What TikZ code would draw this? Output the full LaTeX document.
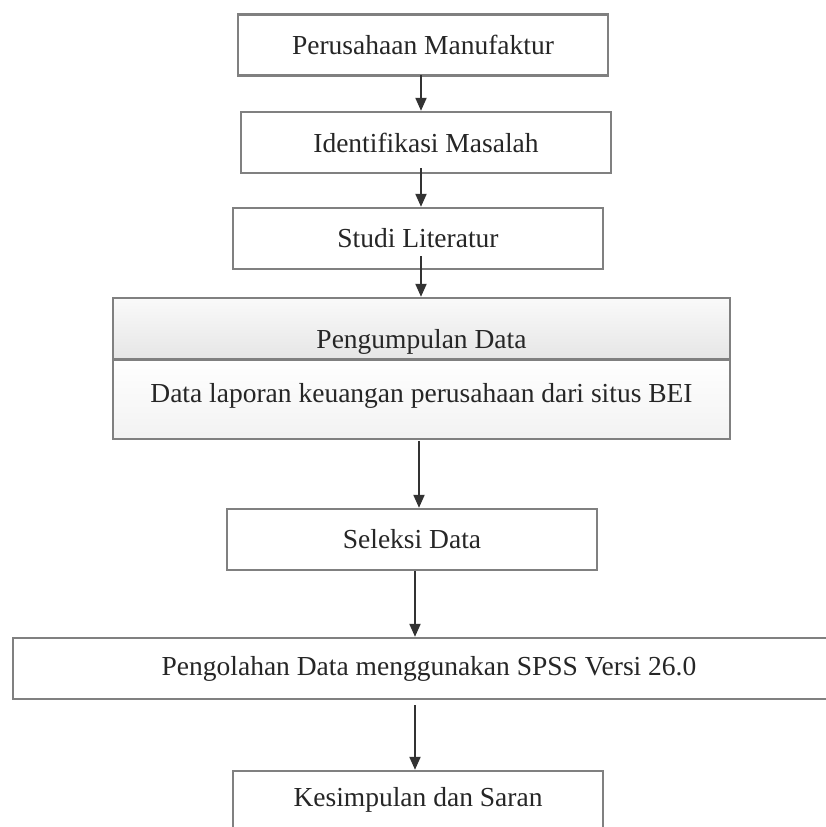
\documentclass[tikz,border=0pt]{standalone}
\usepackage{fontspec}
\setmainfont{Liberation Serif}
\usetikzlibrary{shapes,arrows,arrows.meta,calc,positioning}

\begin{document}
\begin{tikzpicture}[x=0.5pt,y=-0.5pt]
	\tikzstyle{box} = [draw=black!50,line width=1.2pt,fill=white,inner sep=0pt,minimum width=185pt,minimum height=30.5pt,text=black!85,font=\fontsize{13.75}{16}\selectfont]
	\tikzstyle{headpart} = [box,minimum width=308.5pt,top color=black!2,bottom color=black!10,text height=22.7pt,text depth=3.2pt]
	\tikzstyle{bodypart} = [box,minimum width=308.5pt,minimum height=40pt,top color=white,bottom color=black!5,text height=10pt,text depth=7pt]
	\tikzstyle{flow} = [draw=black!80,line width=1pt,-{Triangle[width=5.5pt,length=6.5pt]}]
	\useasboundingbox (0,0) rectangle (826,827);
	\clip (0,0) rectangle (826,827);
	% Steps
	\node[box] (s1) at (423,45) {Perusahaan Manufaktur};
	\node[box] (s2) at (426,142.5) {Identifikasi Masalah};
	\node[box] (s3) at (418,238.5) {Studi Literatur};
	% Data collection
	\node[headpart] (s4a) at (421.5,328.5) {Pengumpulan Data};
	\node[bodypart] (s4b) at (421.5,399) {Data laporan keuangan perusahaan dari situs BEI};
	\draw[draw=black!50,line width=1.2pt] (s4a.south west) -- (s4a.south east);
	% Steps
	\node[box] (s5) at (412,539.5) {Seleksi Data};
	\node[box,minimum width=416pt] (s6) at (429,668.5) {Pengolahan Data menggunakan SPSS Versi 26.0};
	\node[box,minimum height=29pt] (s7) at (418,800) {Kesimpulan dan Saran};
	% Arrows
	\coordinate (a1) at (421,75);
	\coordinate (a2) at (421,168);
	\coordinate (a3) at (421,256);
	\coordinate (a4) at (419,441);
	\coordinate (a5) at (415,571);
	\coordinate (a6) at (415,705);
	\draw[flow] (a1) -- (s2.north -| a1);
	\draw[flow] (a2) -- (s3.north -| a2);
	\draw[flow] (a3) -- (s4a.north -| a3);
	\draw[flow] (a4) -- (s5.north -| a4);
	\draw[flow] (a5) -- (s6.north -| a5);
	\draw[flow] (a6) -- (s7.north -| a6);
\end{tikzpicture}
\end{document}
